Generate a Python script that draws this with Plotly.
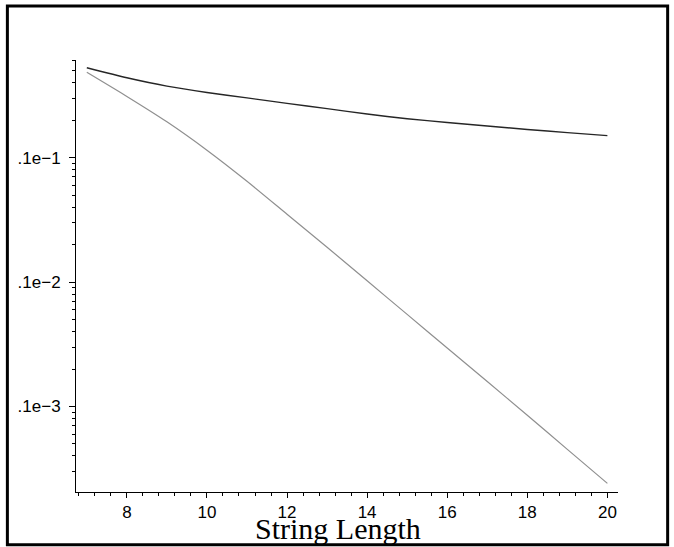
import plotly.graph_objects as go

# Data
string_length = [7, 8, 9, 10, 11, 12, 13, 14, 15, 16, 17, 18, 19, 20]
upper_series = [0.0528, 0.0439, 0.0376, 0.0334, 0.0302, 0.0273, 0.02475,
                0.0224, 0.02053, 0.01918, 0.01797, 0.01685, 0.01588, 0.01502]
lower_series = [0.04853, 0.03105, 0.01941, 0.01148, 0.006457, 0.003508, 0.001905,
                0.001023, 0.0005495, 0.0002951, 0.0001585, 8.51e-5, 4.52e-5, 2.41e-5]

x_tick_vals = [8, 10, 12, 14, 16, 18, 20]
y_tick_vals = [0.01, 0.001, 0.0001]
y_tick_text = [".1e\u22121", ".1e\u22122", ".1e\u22123"]

# minor log ticks (2..9 in each decade)
y_minor_vals = [k * 10.0 ** e for e in range(-5, -1) for k in range(2, 10)]

fig = go.Figure()
fig.add_trace(go.Scatter(x=string_length, y=upper_series, mode="lines",
                         line=dict(color="#262626", width=1.4, shape="spline", smoothing=0.6),
                         showlegend=False))
fig.add_trace(go.Scatter(x=string_length, y=lower_series, mode="lines",
                         line=dict(color="#8f8f8f", width=1.2, shape="spline", smoothing=0.6),
                         showlegend=False))

tick_font = dict(family="Liberation Sans, Arial, sans-serif", size=17, color="black")

fig.update_layout(
    width=674, height=547,
    margin=dict(l=76, r=56, t=60, b=55),
    paper_bgcolor="white", plot_bgcolor="white",
    xaxis=dict(
        range=[6.73, 20.265],
        tickmode="array", tickvals=x_tick_vals,
        ticks="outside", ticklen=5, tickwidth=1, tickcolor="black",
        showline=True, linecolor="black", linewidth=1,
        showgrid=False, zeroline=False,
        tickfont=tick_font,
        minor=dict(tickmode="linear", tick0=0, dtick=0.4, ticks="outside",
                   ticklen=2.5, tickwidth=1, tickcolor="black", showgrid=False),
    ),
    yaxis=dict(
        type="log",
        range=[-4.6876, -1.2153],
        tickmode="array", tickvals=y_tick_vals, ticktext=y_tick_text,
        ticks="outside", ticklen=6, tickwidth=1, tickcolor="black",
        ticklabelstandoff=5,
        showline=True, linecolor="black", linewidth=1,
        showgrid=False, zeroline=False,
        tickfont=tick_font,
        minor=dict(tickmode="array", tickvals=y_minor_vals, ticks="outside",
                   ticklen=3, tickwidth=1, tickcolor="black", showgrid=False),
    ),
    annotations=[dict(
        text="String Length", xref="paper", yref="paper",
        x=0.4843, y=-0.085, xanchor="center", yanchor="middle",
        showarrow=False,
        font=dict(family="Liberation Serif, Times New Roman, serif", size=30, color="black"),
    )],
    shapes=[dict(
        type="rect", xref="paper", yref="paper",
        x0=-0.1266, x1=1.0916, y0=-0.1219, y1=1.1249,
        line=dict(color="black", width=3), fillcolor="rgba(0,0,0,0)",
        layer="above",
    )],
)

fig.write_html("out.html",
               config={"displayModeBar": False},
               post_script="document.body.style.margin='0';document.body.style.overflow='hidden';")
